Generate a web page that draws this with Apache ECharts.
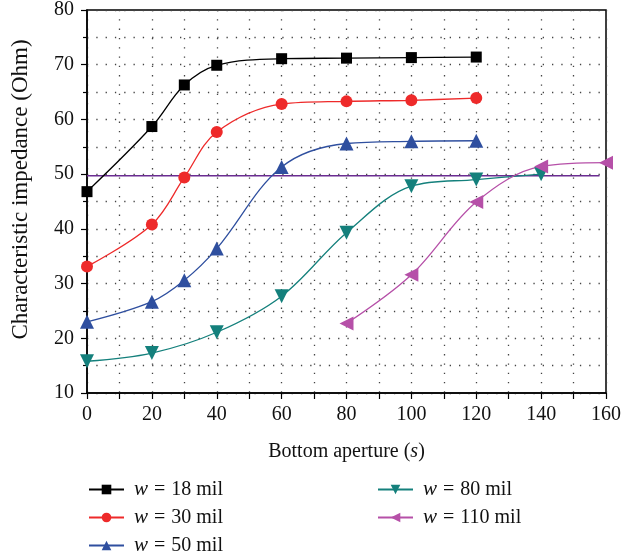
<!DOCTYPE html>
<html><head><meta charset="utf-8">
<script src="https://cdn.jsdelivr.net/npm/echarts@6/dist/echarts.min.js"></script>
<style>html,body{margin:0;padding:0;background:#fff}#c{width:623px;height:557px}</style>
</head><body><div id="c"></div>
<script>
const xTicks = [0, 20, 40, 60, 80, 100, 120, 140, 160];
const yTicks = [10, 20, 30, 40, 50, 60, 70, 80];
const names = ['w = 18 mil', 'w = 30 mil', 'w = 50 mil', 'w = 80 mil', 'w = 110 mil'];
const w18x = [0, 20, 30, 40, 60, 80, 100, 120];
const w18y = [46.8, 58.7, 66.3, 69.9, 71.1, 71.2, 71.3, 71.4];
const w30x = [0, 20, 30, 40, 60, 80, 100, 120];
const w30y = [33.1, 40.8, 49.4, 57.7, 62.8, 63.3, 63.5, 63.9];
const w50x = [0, 20, 30, 40, 60, 80, 100, 120];
const w50y = [23.0, 26.7, 30.6, 36.4, 51.3, 55.6, 56.0, 56.1];
const w80x = [0, 20, 40, 60, 80, 100, 120, 140];
const w80y = [15.8, 17.3, 21.1, 27.7, 39.3, 47.8, 49.0, 50.0];
const w110x = [80, 100, 120, 140, 160];
const w110y = [22.7, 31.6, 44.9, 51.4, 52.1];
const refX = [0, 158];
const refY = [49.7, 49.7];

const colors = ['#000000', '#ee2a2a', '#2f4f9f', '#14807c', '#b650a8'];
const symbols = ['rect', 'circle', 'triangle', 'triangle', 'triangle'];
const rotates = [0, 0, 0, 180, 90];
const sizes = [11, 12, 14, 14, 14];
const xs = [w18x, w30x, w50x, w80x, w110x];
const ys = [w18y, w30y, w50y, w80y, w110y];
const font = 'Liberation Serif';

const series = names.map((n, i) => ({
  name: n, type: 'line', smooth: 0.35,
  data: xs[i].map((x, j) => [x, ys[i][j]]),
  symbol: symbols[i], symbolRotate: rotates[i], symbolSize: sizes[i],
  itemStyle: { color: colors[i] },
  lineStyle: { color: colors[i], width: 1.3 },
  z: 3
}));
series.push({
  name: 'ref', type: 'line', data: refX.map((x, j) => [x, refY[j]]),
  symbol: 'none', lineStyle: { color: '#6a2c91', width: 1.4 }, z: 2, silent: true
});

function legendFmt(n) {
  const rest = n.slice(4);
  return '{i|w}{e|=}{n|' + rest + '}';
}
const legRich = {
  i: { fontFamily: font, fontStyle: 'italic', fontSize: 21, color: '#111', padding: [0, 0, 0, 5] },
  e: { fontFamily: font, fontSize: 20, color: '#111', padding: [0, 6, 0, 6] },
  n: { fontFamily: font, fontSize: 20, color: '#111' }
};
const legBase = {
  orient: 'vertical', itemWidth: 35, itemHeight: 12, itemGap: 7, height: 120,
  formatter: legendFmt, textStyle: { rich: legRich }, selectedMode: false, padding: 0
};

const chart = echarts.init(document.getElementById('c'));
chart.setOption({
  animation: false,
  color: colors,
  grid: { left: 87, right: 17, top: 10, bottom: 164, show: true, borderColor: '#000', borderWidth: 1.5,
          containLabel: false, outerBoundsMode: 'none' },
  legend: [
    Object.assign({ data: names.slice(0, 3), left: 88, top: 479 }, legBase),
    Object.assign({ data: names.slice(3), left: 377, top: 479 }, legBase)
  ],
  xAxis: {
    type: 'value', min: 0, max: 160, interval: 20,
    name: '{n|Bottom aperture (}{i|s}{n|)}', nameLocation: 'middle', nameGap: 49,
    nameTextStyle: { rich: {
      n: { fontFamily: font, fontSize: 20, color: '#111' },
      i: { fontFamily: font, fontSize: 20, fontStyle: 'italic', color: '#111' } } },
    axisLine: { lineStyle: { color: '#000', width: 1.5 } },
    axisTick: { inside: false, length: 6, lineStyle: { color: '#000', width: 1.2 } },
    minorTick: { show: true, splitNumber: 2, length: 6, lineStyle: { color: '#000', width: 1.2 } },
    axisLabel: { fontFamily: font, fontSize: 20, color: '#111', margin: 12 },
    splitLine: { show: true, lineStyle: { color: '#444', type: [1.3, 8], width: 1.3 } },
    minorSplitLine: { show: true, lineStyle: { color: '#444', type: [1.3, 8], width: 1.3 } }
  },
  yAxis: {
    type: 'value', min: 10, max: 80, interval: 10,
    name: 'Characteristic impedance (Ohm)', nameLocation: 'middle', nameGap: 55,
    nameTextStyle: { fontFamily: font, fontSize: 23, color: '#111', padding: [0, 0, 0, 24] },
    axisLine: { lineStyle: { color: '#000', width: 1.5 } },
    axisTick: { inside: false, length: 6, lineStyle: { color: '#000', width: 1.2 } },
    minorTick: { show: true, splitNumber: 2, length: 4, lineStyle: { color: '#000', width: 1.2 } },
    axisLabel: { fontFamily: font, fontSize: 20, color: '#111', margin: 13 },
    splitLine: { show: true, lineStyle: { color: '#444', type: [1.3, 8], width: 1.3 } },
    minorSplitLine: { show: true, lineStyle: { color: '#444', type: [1.3, 8], width: 1.3 } }
  },
  series: series
});
</script></body></html>
